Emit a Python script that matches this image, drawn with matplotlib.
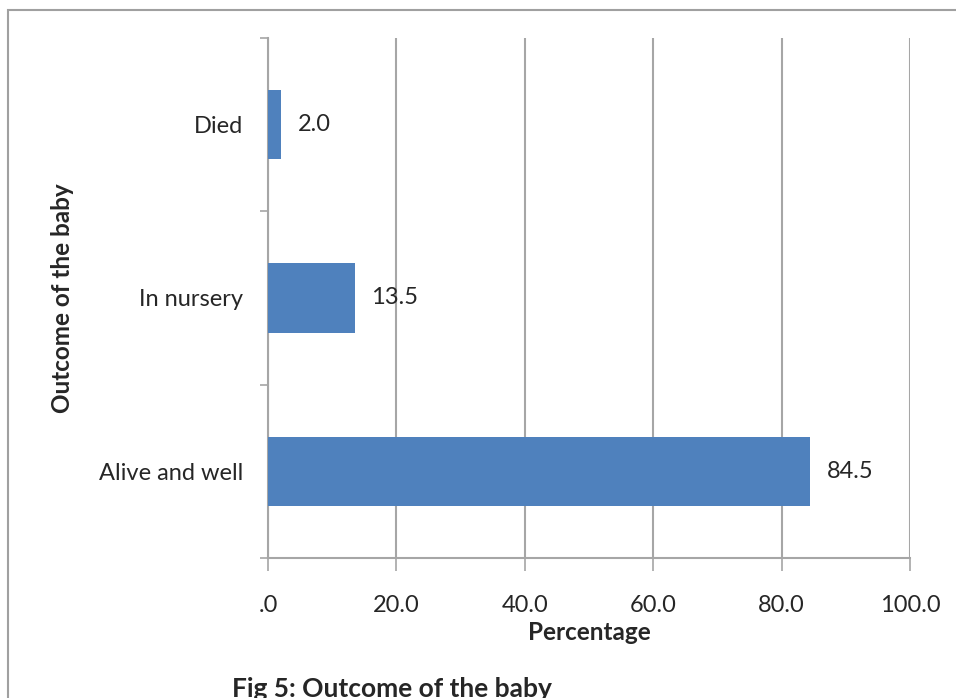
import numpy as np
import matplotlib
matplotlib.use('Agg')
import matplotlib.pyplot as plt
from matplotlib.patches import Rectangle

categories = ['Alive and well', 'In nursery', 'Died']
values = [84.5, 13.5, 2.0]
value_labels = ['84.5', '13.5', '2.0']
xticks = [0, 20, 40, 60, 80, 100]
xtick_labels = ['.0', '20.0', '40.0', '60.0', '80.0', '100.0']

plt.rcParams['font.family'] = ['Lato', 'DejaVu Sans']
bar_color = '#4F81BD'
grid_color = '#A6A6A6'
text_color = '#262626'
fs = 17

fig = plt.figure(figsize=(9.56, 6.98), dpi=100)
ax = fig.add_axes([0.2803, 0.2006, 0.6716, 0.745])

ypos = np.arange(len(categories))
ax.barh(ypos, values, height=0.4, color=bar_color, zorder=3)
for y, v, lab in zip(ypos, values, value_labels):
    ax.text(v + 2.6, y, lab, va='center', ha='left', fontsize=fs, color=text_color)

ax.set_xlim(0, 100)
ax.set_ylim(-0.5, len(categories) - 0.5)
ax.set_xticks(xticks)
ax.set_xticklabels(xtick_labels, fontsize=fs, color=text_color)
ax.set_yticks(ypos)
ax.set_yticklabels(categories, fontsize=fs, color=text_color)
# ticks sit on category boundaries, labels in the middle
ax.set_yticks(np.arange(-0.5, len(categories), 1.0), minor=True)
ax.tick_params(axis='y', which='major', length=0, pad=18)
ax.tick_params(axis='y', which='minor', length=6, width=1.2, color=grid_color, direction='out')
ax.tick_params(axis='x', length=9, width=1.2, color=grid_color, direction='out', pad=18)

ax.grid(axis='x', color=grid_color, lw=1.5, zorder=0)
for s in ['top', 'right']:
    ax.spines[s].set_visible(False)
for s in ['left', 'bottom']:
    ax.spines[s].set_color(grid_color)
    ax.spines[s].set_linewidth(1.5)

ax.set_xlabel('Percentage', fontsize=17.5, fontweight='bold', color=text_color, labelpad=3)
ax.set_ylabel('Outcome of the baby', fontsize=17.5, fontweight='bold', color=text_color, labelpad=18)

# outer frame of the pasted chart
fig.patches.append(Rectangle((8 / 956, -0.1), 1.2, 1 - 10 / 698 + 0.1,
                             transform=fig.transFigure, fill=False,
                             edgecolor='#A0A0A0', lw=1.5))

fig.text(232 / 956, 1 - 677 / 698, 'Fig 5: Outcome of the baby', fontsize=19,
         fontweight='bold', color=text_color, ha='left', va='top')

plt.savefig('out.png', dpi=100)
